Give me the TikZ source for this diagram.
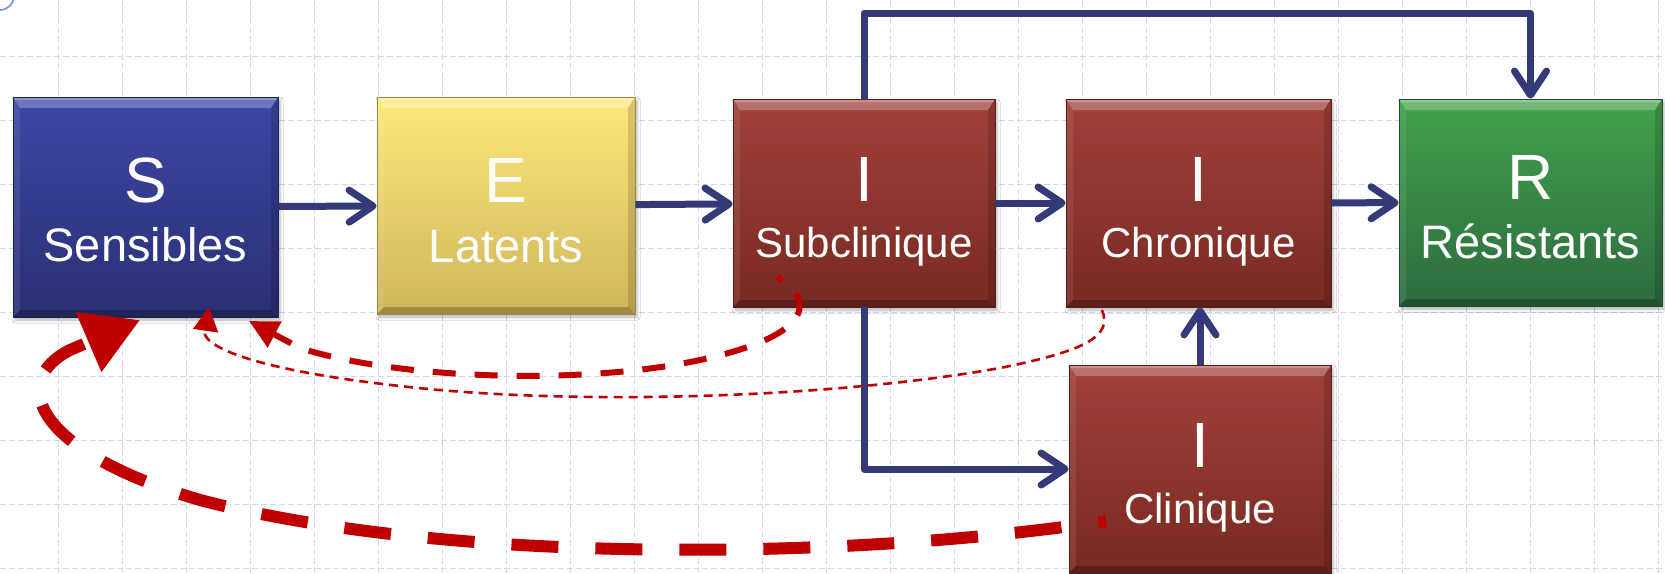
\documentclass[tikz,border=0pt]{standalone}
\usepackage{fontspec}
\setmainfont{Liberation Sans}
\usetikzlibrary{arrows.meta,calc,shadows.blur}
\definecolor{navyc}{HTML}{343A78}
\definecolor{redc}{HTML}{C00000}
\definecolor{gridc}{HTML}{CBD8F6}
\definecolor{sTop}{HTML}{3E46A6}
\definecolor{sBot}{HTML}{2A3074}
\definecolor{sEdge}{HTML}{1E2356}
\definecolor{eTop}{HTML}{FEE87A}
\definecolor{eBot}{HTML}{CFB55A}
\definecolor{eEdge}{HTML}{9C8A40}
\definecolor{iTop}{HTML}{A1403C}
\definecolor{iBot}{HTML}{782A21}
\definecolor{iEdge}{HTML}{5A1E18}
\definecolor{rTop}{HTML}{41A24B}
\definecolor{rBot}{HTML}{2D6B40}
\definecolor{rEdge}{HTML}{1F4C2C}
\newcommand\bevelpic{%
  \coordinate (pnw) at (path picture bounding box.north west);
  \coordinate (pse) at (path picture bounding box.south east);
  \coordinate (pne) at (pnw -| pse);
  \coordinate (psw) at (pnw |- pse);
  \fill[white, opacity=.26] (pnw) -- (pne) -- ($(pne)+(-7pt,-11pt)$) -- ($(pnw)+(7pt,-11pt)$) -- cycle;
  \fill[white, opacity=.22] (pnw) -- (pne) -- ($(pne)+(-2pt,-3pt)$) -- ($(pnw)+(2pt,-3pt)$) -- cycle;
  \fill[white, opacity=.08] (pnw) -- ($(pnw)+(7pt,-11pt)$) -- ($(psw)+(7pt,7pt)$) -- (psw) -- cycle;
  \fill[black, opacity=.14] (pne) -- ($(pne)+(-7pt,-11pt)$) -- ($(pse)+(-7pt,7pt)$) -- (pse) -- cycle;
  \fill[black, opacity=.24] (psw) -- ($(psw)+(7pt,7pt)$) -- ($(pse)+(-7pt,7pt)$) -- (pse) -- cycle;
}
\tikzset{
  cbox/.style n args={3}{rectangle, inner sep=0pt, draw=#3, line width=0.8pt,
    top color=#1, bottom color=#2, path picture={\bevelpic},
    blur shadow={shadow xshift=2pt, shadow yshift=-3pt, shadow blur radius=3pt, shadow opacity=30}},
  bigl/.style={text=white, inner sep=0pt, font=\fontsize{64}{64}\selectfont},
  txtA/.style={text=white, inner sep=0pt, font=\fontsize{47}{47}\selectfont},
  txtB/.style={text=white, inner sep=0pt, font=\fontsize{42}{42}\selectfont},
  navyarr/.style={draw=navyc, line width=7pt, line join=round,
    -{Straight Barb[length=24pt, width=32pt, round]}},
  gridln/.style={draw=gridc, line width=1pt, dash pattern=on 6pt off 3pt},
  redthick/.style={draw=redc, line width=12pt, dash pattern=on 47pt off 37pt, dash phase=39pt,
    -{Triangle[length=56pt, width=62pt]}},
  redmed/.style={draw=redc, line width=6pt, dash pattern=on 23pt off 19pt, dash phase=17pt,
    -{Triangle[length=29pt, width=28pt]}},
  redthin/.style={draw=redc, line width=2.6pt, dash pattern=on 9pt off 6pt,
    -{Triangle[length=24pt, width=25pt]}},
}
\begin{document}
\begin{tikzpicture}[x=1pt, y=-1pt]
\useasboundingbox (0,0) rectangle (1665,573);
\clip (0,0) rectangle (1665,573);
\fill[white] (0,0) rectangle (1665,573);
% grid
\foreach \gx in {0,...,25} { \draw[gridln] (58+64*\gx,0) -- (58+64*\gx,573); }
\foreach \gy in {0,...,8} { \draw[gridln] (0,56+64*\gy) -- (1665,56+64*\gy); }
\draw[draw={rgb,255:red,107;green,140;blue,245}, line width=1.5pt] (0,-4) circle[radius=14];
% boxes
\node[cbox={sTop}{sBot}{sEdge}, minimum width=265pt, minimum height=220pt] (S) at (145.5,207) {};
\node[cbox={eTop}{eBot}{eEdge}, minimum width=258pt, minimum height=217pt] (E) at (506,205.5) {};
\node[cbox={iTop}{iBot}{iEdge}, minimum width=262pt, minimum height=208pt] (sub) at (864,203) {};
\node[cbox={iTop}{iBot}{iEdge}, minimum width=265pt, minimum height=208pt] (chr) at (1198.5,203) {};
\node[cbox={rTop}{rBot}{rEdge}, minimum width=263pt, minimum height=207pt] (R) at (1530.5,202.5) {};
\node[cbox={iTop}{iBot}{iEdge}, minimum width=262pt, minimum height=208pt] (cli) at (1200,469) {};
% labels
\node[bigl, anchor=base] (sL) at (145.5,202) {S};
\node[txtA, anchor=base] (sT) at (145.5,261) {Sensibles};
\node[bigl, anchor=base] (eL) at (506,202) {E};
\node[txtA, anchor=base] (eT) at (506,262) {Latents};
\node[bigl, anchor=base] (subL) at (864,201) {I};
\node[txtB, anchor=base] (subT) at (864,257) {Subclinique};
\node[bigl, anchor=base] (chrL) at (1198.5,201) {I};
\node[txtB, anchor=base] (chrT) at (1198.5,257) {Chronique};
\node[bigl, anchor=base] (rL) at (1530.5,199) {R};
\node[txtA, anchor=base] (rT) at (1530.5,258) {Résistants};
\node[bigl, anchor=base] (cliL) at (1200,467) {I};
\node[txtB, anchor=base] (cliT) at (1200,523) {Clinique};
% blue connectors
\coordinate (topy) at (0,13);
\draw[navyarr] (S) -- (E);
\draw[navyarr] (E) -- (sub);
\draw[navyarr] (sub) -- (chr);
\draw[navyarr] (chr) -- (R);
\draw[navyarr] (sub.north) -- (sub.north |- topy) -| (R.north);
\draw[navyarr] (sub.south) |- (cli.west);
\draw[navyarr] (cli.north) -- (cli.north |- chr.south);
% red dashed returns
\coordinate (c1) at (1106,521);
\coordinate (t1) at (140,320);
\coordinate (c2) at (777,277);
\coordinate (t2) at (249,321);
\coordinate (c3) at (1102,310);
\coordinate (t3) at (209,307);
\draw[redthin] (c3) .. controls (1112,335) and (1090,350) .. (1000,368)
  .. controls (820,400) and (560,405) .. (400,386)
  .. controls (290,374) and (215,355) .. (205,335) -- (t3);
\draw[redmed] (c2) .. controls (815,300) and (815,335) .. (700,360)
  .. controls (585,385) and (400,380) .. (300,348) -- (t2);
\draw[redthick] (c1) .. controls (850,560) and (450,565) .. (200,500)
  .. controls (30,450) and (10,380) .. (70,350) -- (t1);
\end{tikzpicture}
\end{document}
